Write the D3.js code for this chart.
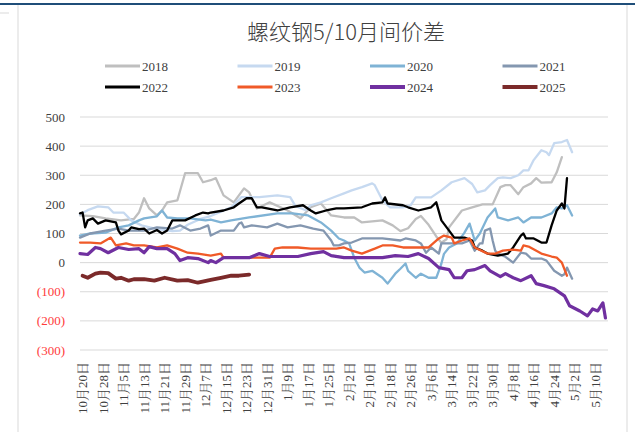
<!DOCTYPE html>
<html>
<head>
<meta charset="utf-8">
<script src="https://cdn.jsdelivr.net/npm/d3@7"></script>
<style>
  body { margin: 0; background: #fff; }
</style>
</head>
<body>
<div id="chart"></div>
<script>
// data: [day index, spread]
var s2018 = [[0,162],[5,160],[10,152],[16,145],[21,150],[23,172],[25,221],[27,186],[30,162],[32,179],[34,207],[38,214],[41,307],[46,307],[48,276],[51,283],[53,290],[56,231],[60,207],[64,255],[66,241],[69,186],[74,207],[81,179],[86,152],[90,190],[94,203],[98,162],[103,155],[107,155],[110,138],[118,145],[122,128],[125,108],[128,118],[131,150],[133,160],[136,130],[139,90],[141,68],[143,80],[144,121],[149,179],[153,190],[157,200],[161,200],[164,259],[166,266],[168,266],[171,235],[173,259],[176,272],[178,290],[180,275],[184,276],[186,310],[188,362]];
var s2019 = [[0,165],[3,180],[7,193],[11,190],[13,172],[17,172],[20,145],[24,128],[30,115],[36,108],[39,110],[42,130],[47,150],[51,160],[55,175],[59,190],[63,225],[70,225],[77,231],[82,225],[84,195],[88,180],[90,197],[94,207],[98,221],[103,238],[106,248],[110,259],[114,272],[115,266],[118,214],[121,190],[126,190],[129,197],[131,224],[137,224],[141,248],[145,276],[150,290],[153,270],[155,241],[158,248],[160,266],[163,290],[165,293],[168,290],[171,300],[173,317],[175,317],[177,352],[180,386],[182,379],[183,369],[185,410],[188,414],[190,421],[192,379]];
var s2020 = [[0,93],[4,100],[10,103],[15,121],[19,128],[23,145],[25,152],[30,159],[32,179],[34,155],[38,152],[43,152],[49,145],[51,148],[55,138],[59,145],[66,155],[77,169],[83,169],[89,162],[94,138],[98,110],[101,83],[103,76],[105,66],[107,17],[109,-17],[111,-34],[114,-28],[118,-52],[120,-72],[123,-38],[125,-21],[127,-3],[128,-28],[131,-52],[133,-38],[136,-52],[139,-52],[140,-28],[141,-3],[142,30],[144,52],[147,66],[150,103],[152,134],[154,76],[156,100],[159,155],[162,186],[163,155],[167,145],[171,155],[173,138],[176,155],[180,155],[184,169],[186,190],[188,186],[190,197],[192,162]];
var s2021 = [[0,86],[4,100],[10,110],[15,117],[19,110],[25,110],[30,121],[36,117],[39,128],[43,110],[47,117],[50,128],[51,93],[55,110],[60,110],[62,134],[63,138],[64,121],[67,128],[73,121],[77,134],[81,121],[86,128],[91,117],[95,110],[98,76],[99,59],[101,59],[103,66],[106,69],[110,83],[118,83],[125,76],[127,83],[131,76],[133,66],[135,34],[137,52],[140,31],[141,66],[145,66],[149,66],[152,76],[154,41],[156,66],[157,66],[158,110],[160,117],[161,76],[162,41],[163,31],[166,20],[169,0],[172,34],[174,31],[176,14],[180,14],[182,7],[185,-28],[188,-45],[189,-40],[190,-17],[192,-55]];
var s2022 = [[0,169],[1,172],[2,121],[3,145],[5,152],[7,134],[10,145],[14,138],[15,110],[16,97],[19,110],[20,121],[23,115],[25,117],[27,100],[30,112],[32,100],[34,110],[36,145],[41,145],[45,162],[48,172],[50,169],[51,172],[56,179],[60,190],[62,203],[65,221],[67,221],[69,190],[71,190],[77,179],[82,190],[87,197],[90,179],[92,169],[96,179],[100,186],[103,186],[110,190],[114,203],[118,207],[119,224],[120,203],[126,197],[128,190],[132,179],[137,190],[139,207],[141,145],[144,110],[146,86],[150,86],[153,76],[154,52],[157,41],[159,31],[163,24],[167,31],[169,52],[172,93],[173,100],[174,83],[177,83],[180,69],[182,69],[184,128],[186,179],[188,203],[189,186],[190,290]];
var s2023 = [[0,69],[4,69],[8,66],[12,86],[14,59],[18,66],[21,59],[25,59],[30,52],[34,59],[38,48],[42,34],[46,31],[51,24],[55,31],[56,17],[64,17],[70,17],[74,17],[76,48],[79,52],[85,52],[90,48],[95,48],[100,48],[103,52],[106,41],[110,31],[115,48],[118,59],[122,59],[126,52],[131,52],[136,52],[140,83],[142,93],[145,86],[146,66],[149,76],[152,83],[154,52],[159,31],[162,31],[165,41],[169,45],[172,41],[173,59],[175,55],[180,31],[184,21],[186,17],[188,0],[190,-45]];
var s2024 = [[0,31],[3,28],[6,52],[8,48],[11,34],[15,52],[19,45],[23,48],[25,34],[27,55],[30,48],[34,48],[37,31],[39,7],[42,17],[46,14],[50,0],[51,7],[53,0],[56,17],[61,17],[66,17],[70,31],[74,21],[79,21],[85,21],[90,31],[95,38],[98,24],[103,17],[110,17],[118,17],[123,24],[128,21],[132,31],[136,14],[140,-17],[144,-24],[146,-52],[149,-52],[151,-28],[154,-24],[158,-10],[160,-28],[164,-48],[166,-38],[169,-52],[172,-62],[176,-45],[178,-72],[181,-79],[185,-90],[189,-114],[191,-148],[195,-166],[198,-183],[200,-159],[202,-166],[204,-138],[205,-190]];
var s2025 = [[1,-45],[3,-52],[6,-38],[8,-34],[11,-36],[14,-55],[16,-52],[19,-62],[21,-57],[25,-57],[29,-62],[33,-52],[38,-62],[42,-60],[46,-69],[51,-59],[55,-52],[59,-45],[62,-45],[66,-41]];

var years = ["2018", "2019", "2020", "2021", "2022", "2023", "2024", "2025"];
var colors = ["#bfbfbf", "#c6d9f0", "#7fb3d5", "#8497b0", "#000000", "#f05a28", "#7030a0", "#7b2a2a"];
var widths = [2.3, 2.3, 2.3, 2.3, 2.3, 2.3, 3.2, 3.8];
var series = [s2018, s2019, s2020, s2021, s2022, s2023, s2024, s2025];

var yTicks = [500, 400, 300, 200, 100, 0, -100, -200, -300];
var xLabels = ["10月20日", "10月28日", "11月5日", "11月13日", "11月21日", "11月29日", "12月7日", "12月15日", "12月23日", "12月31日", "1月9日", "1月17日", "1月25日", "2月2日", "2月10日", "2月18日", "2月26日", "3月6日", "3月14日", "3月22日", "3月30日", "4月8日", "4月16日", "4月24日", "5月2日", "5月10日"];

var serif = "'Liberation Serif', 'Times New Roman', 'Noto Serif CJK SC', 'Noto Sans CJK SC', serif";

var svgWidth = 635;
var svgHeight = 432;

var svg = d3.select("#chart")
    .append("svg")
    .attr("width", svgWidth)
    .attr("height", svgHeight);

// frame
svg.append("line").attr("x1", 0).attr("x2", svgWidth).attr("y1", 4).attr("y2", 4)
    .attr("stroke", "#1f4e79").attr("stroke-width", 2);
svg.append("line").attr("x1", 18).attr("x2", 18).attr("y1", 5).attr("y2", svgHeight)
    .attr("stroke", "#d9d9d9");
svg.append("line").attr("x1", 627).attr("x2", 627).attr("y1", 5).attr("y2", svgHeight)
    .attr("stroke", "#d9d9d9");
svg.append("line").attr("x1", 0).attr("x2", 9).attr("y1", 13).attr("y2", 13)
    .attr("stroke", "#d9d9d9");

// title
svg.append("text")
    .attr("x", 346)
    .attr("y", 40)
    .attr("text-anchor", "middle")
    .style("font-family", "'Noto Sans CJK SC', sans-serif")
    .style("font-size", "22px")
    .style("font-weight", 300)
    .attr("fill", "#404040")
    .text("螺纹钢5/10月间价差");

// scales
var xScale = d3.scaleLinear().domain([0, 206]).range([80, 608]);
var yScale = d3.scaleLinear().domain([-300, 500]).range([350, 117]);

// gridlines
svg.append("g")
    .selectAll("line")
    .data(yTicks)
    .enter()
    .append("line")
    .attr("x1", 80)
    .attr("x2", 608)
    .attr("y1", d => yScale(d))
    .attr("y2", d => yScale(d))
    .attr("stroke", "#d9d9d9")
    .attr("stroke-width", 1);

// y labels
svg.append("g")
    .selectAll("text")
    .data(yTicks)
    .enter()
    .append("text")
    .attr("x", 65)
    .attr("y", d => yScale(d))
    .attr("dy", "0.35em")
    .attr("text-anchor", "end")
    .style("font-family", serif)
    .style("font-size", "13px")
    .attr("fill", d => d < 0 ? "#ff3b3b" : "#404040")
    .text(d => d < 0 ? "(" + (-d) + ")" : d);

// x labels, one every 8 days
svg.append("g")
    .selectAll("text")
    .data(xLabels)
    .enter()
    .append("text")
    .attr("transform", (d, i) => `translate(${xScale(1 + i * 8)}, 362) rotate(-90)`)
    .attr("dy", "0.35em")
    .attr("text-anchor", "end")
    .style("font-family", serif)
    .style("font-size", "13px")
    .attr("fill", "#404040")
    .text(d => d);

// lines
var line = d3.line()
    .x(d => xScale(d[0]))
    .y(d => yScale(d[1]));

var lineGroup = svg.append("g");
series.forEach(function (s, i) {
    lineGroup.append("path")
        .datum(s)
        .attr("d", line)
        .attr("fill", "none")
        .attr("stroke", colors[i])
        .attr("stroke-width", widths[i])
        .attr("stroke-linejoin", "round")
        .attr("stroke-linecap", "round");
});

// legend, 4 columns x 2 rows
var legend = svg.append("g")
    .selectAll("g")
    .data(years)
    .enter()
    .append("g")
    .attr("transform", (d, i) => `translate(${105 + (i % 4) * 132.5}, ${66 + Math.floor(i / 4) * 21})`);

legend.append("line")
    .attr("x1", 0)
    .attr("x2", 35)
    .attr("stroke", (d, i) => colors[i])
    .attr("stroke-width", (d, i) => i >= 6 ? 4 : 3);

legend.append("text")
    .attr("x", 37)
    .attr("dy", "0.35em")
    .style("font-family", serif)
    .style("font-size", "13px")
    .attr("fill", "#404040")
    .text(d => d);
</script>
</body>
</html>
